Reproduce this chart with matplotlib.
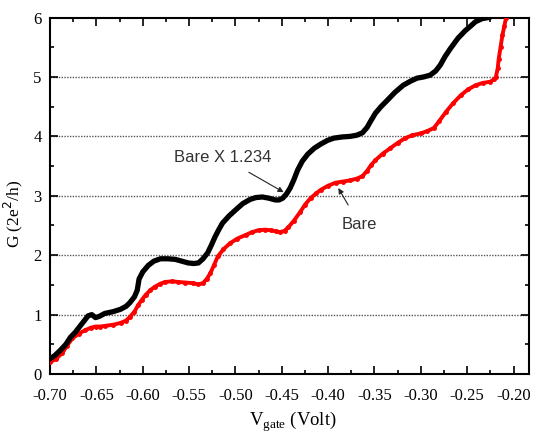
import matplotlib.pyplot as plt
import numpy as np
from matplotlib.ticker import MultipleLocator

# data
v_scaled = [-0.700, -0.695, -0.689, -0.683, -0.678, -0.673, -0.668, -0.663, -0.659, -0.655,
            -0.651, -0.647, -0.641, -0.632, -0.624, -0.618, -0.614, -0.609, -0.606, -0.604,
            -0.600, -0.594, -0.588, -0.581, -0.573, -0.565, -0.558, -0.551, -0.545, -0.540,
            -0.535, -0.530, -0.526, -0.522, -0.518, -0.514, -0.507, -0.500, -0.492, -0.484,
            -0.478, -0.471, -0.464, -0.457, -0.453, -0.449, -0.445, -0.441, -0.437, -0.433,
            -0.428, -0.422, -0.415, -0.408, -0.401, -0.394, -0.385, -0.376, -0.369, -0.363,
            -0.358, -0.354, -0.349, -0.343, -0.336, -0.328, -0.319, -0.311, -0.304, -0.297,
            -0.290, -0.284, -0.279, -0.274, -0.268, -0.260, -0.252, -0.246, -0.241, -0.234,
            -0.227]
g_scaled = [0.26, 0.31, 0.40, 0.50, 0.62, 0.70, 0.80, 0.90, 0.98, 1.00,
            0.95, 0.97, 1.02, 1.05, 1.09, 1.14, 1.20, 1.30, 1.41, 1.60,
            1.72, 1.83, 1.90, 1.94, 1.94, 1.93, 1.90, 1.87, 1.86, 1.87,
            1.94, 2.04, 2.17, 2.31, 2.43, 2.54, 2.66, 2.76, 2.87, 2.94,
            2.97, 2.98, 2.96, 2.93, 2.93, 2.96, 3.03, 3.13, 3.27, 3.43,
            3.58, 3.70, 3.80, 3.87, 3.93, 3.97, 3.99, 4.00, 4.02, 4.06,
            4.15, 4.26, 4.39, 4.50, 4.61, 4.74, 4.86, 4.93, 4.98, 5.00,
            5.03, 5.10, 5.20, 5.34, 5.48, 5.65, 5.78, 5.86, 5.93, 5.98,
            6.00]

v_bare = [-0.700, -0.694, -0.687, -0.682, -0.676, -0.669, -0.662, -0.656, -0.651, -0.646,
          -0.641, -0.632, -0.624, -0.618, -0.614, -0.609, -0.605, -0.601, -0.597, -0.592,
          -0.587, -0.581, -0.576, -0.568, -0.562, -0.554, -0.546, -0.540, -0.535, -0.531,
          -0.527, -0.523, -0.519, -0.513, -0.506, -0.498, -0.489, -0.482, -0.475, -0.468,
          -0.462, -0.456, -0.452, -0.447, -0.443, -0.437, -0.430, -0.425, -0.419, -0.413,
          -0.408, -0.400, -0.392, -0.384, -0.376, -0.369, -0.363, -0.358, -0.354, -0.349,
          -0.341, -0.333, -0.325, -0.317, -0.309, -0.300, -0.293, -0.286, -0.280, -0.273,
          -0.265, -0.257, -0.249, -0.241, -0.233, -0.225, -0.221, -0.219, -0.217, -0.216,
          -0.214, -0.212, -0.210, -0.208]
g_bare = [0.20, 0.25, 0.35, 0.47, 0.60, 0.68, 0.74, 0.78, 0.80, 0.80,
          0.81, 0.83, 0.86, 0.90, 0.96, 1.05, 1.16, 1.25, 1.33, 1.41,
          1.47, 1.52, 1.55, 1.56, 1.55, 1.54, 1.53, 1.51, 1.53, 1.60,
          1.70, 1.84, 1.98, 2.10, 2.20, 2.28, 2.34, 2.39, 2.42, 2.43,
          2.42, 2.40, 2.39, 2.41, 2.47, 2.58, 2.73, 2.85, 2.96, 3.04,
          3.10, 3.17, 3.22, 3.24, 3.26, 3.29, 3.33, 3.42, 3.51, 3.60,
          3.71, 3.80, 3.89, 3.97, 4.02, 4.05, 4.09, 4.14, 4.26, 4.41,
          4.56, 4.69, 4.79, 4.86, 4.90, 4.92, 4.96, 5.00, 5.15, 5.30,
          5.50, 5.70, 5.85, 6.00]

x_ticks = [-0.70, -0.65, -0.60, -0.55, -0.50, -0.45, -0.40, -0.35, -0.30, -0.25, -0.20]
y_ticks = [0, 1, 2, 3, 4, 5, 6]

serif = ['Liberation Serif', 'DejaVu Serif']
sans = ['Liberation Sans', 'DejaVu Sans']

fig = plt.figure(figsize=(5.33, 4.38), dpi=100)
ax = fig.add_axes([0.094, 0.146, 0.899, 0.814])

# grid lines at integer conductance
for g in y_ticks[1:-1]:
    ax.axhline(g, color='#555555', lw=1.0, ls=(0, (1, 1)), zorder=1)

ax.plot(v_bare, g_bare, color='#ff0000', lw=2.8, marker='o', ms=2.5,
        solid_joinstyle='round', zorder=3)
ax.plot(v_scaled, g_scaled, color='black', lw=3.8, solid_joinstyle='round', zorder=4)

ax.set_xlim(-0.70, -0.183)
ax.set_ylim(0, 6)
ax.set_xticks(x_ticks)
ax.set_xticklabels(['%.2f' % v for v in x_ticks])
ax.set_yticks(y_ticks)
ax.xaxis.set_minor_locator(MultipleLocator(0.025))
ax.yaxis.set_minor_locator(MultipleLocator(0.5))
ax.tick_params(which='both', direction='in', top=True, right=True, labelsize=12)
ax.tick_params(axis='x', pad=10)
ax.tick_params(axis='y', pad=6)
ax.tick_params(which='major', length=6, width=1.2)
ax.tick_params(which='minor', length=3, width=1.2)
for lab in ax.get_xticklabels() + ax.get_yticklabels():
    lab.set_family(serif)
for sp in ax.spines.values():
    sp.set_linewidth(1.5)

ax.set_ylabel('G (2e$^2$/h)', family=serif, fontsize=12.5)
ax.yaxis.set_label_coords(-0.052, 0.45)
ax.set_xlabel('V$_{\\mathregular{gate}}$ (Volt)', family=serif, fontsize=13.5)
ax.xaxis.set_label_coords(0.506, -0.1)

ax.annotate('Bare X 1.234', xy=(-0.448, 3.06), xytext=(-0.514, 3.65),
            ha='center', va='center', fontsize=12, color='#333333', family=sans,
            arrowprops=dict(arrowstyle='-|>', color='#222222', lw=0.8,
                            mutation_scale=8, shrinkA=7, shrinkB=0))
ax.annotate('Bare', xy=(-0.389, 3.13), xytext=(-0.366, 2.51),
            ha='center', va='center', fontsize=12, color='#333333', family=sans,
            arrowprops=dict(arrowstyle='-|>', color='#222222', lw=0.8,
                            mutation_scale=8, shrinkA=8, shrinkB=0))

fig.savefig('out.png', dpi=100)
